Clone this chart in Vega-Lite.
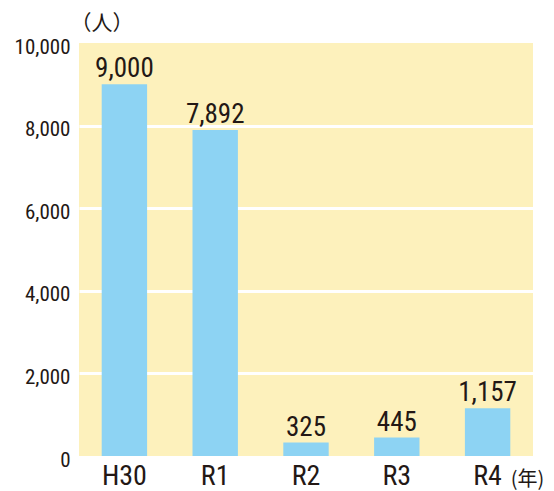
{
  "$schema": "https://vega.github.io/schema/vega-lite/v6.json",
  "autosize": "none",
  "width": 454,
  "height": 413,
  "padding": {"left": 79, "top": 43, "right": 21, "bottom": 35},
  "background": "#ffffff",
  "config": {
    "view": {"fill": "#FDF1BC", "stroke": null},
    "font": "Roboto Condensed, serif"
  },
  "data": {
    "values": [
      {"year": "H30", "people": 9000},
      {"year": "R1", "people": 7892},
      {"year": "R2", "people": 325},
      {"year": "R3", "people": 445},
      {"year": "R4", "people": 1157}
    ]
  },
  "encoding": {
    "x": {
      "field": "year",
      "type": "nominal",
      "sort": null,
      "scale": {"paddingInner": 0.5, "paddingOuter": 0.25},
      "axis": {
        "title": "(年)",
        "titleFont": "Noto Sans CJK JP",
        "titleFontSize": 20,
        "titleFontWeight": "normal",
        "titleColor": "#231815",
        "titleX": 448,
        "titleY": 23,
        "titleAlign": "center",
        "titleBaseline": "middle",
        "labelAngle": 0,
        "labelFontSize": 28,
        "labelFontWeight": "normal",
        "labelColor": "#231815",
        "labelPadding": 6,
        "ticks": false,
        "domain": false,
        "grid": false
      }
    },
    "y": {
      "field": "people",
      "type": "quantitative",
      "scale": {"domain": [0, 10000], "nice": false},
      "axis": {
        "title": "（人）",
        "titleFont": "Noto Sans CJK JP",
        "titleFontSize": 21,
        "titleFontWeight": "normal",
        "titleColor": "#231815",
        "titleAngle": 0,
        "titleX": -9,
        "titleY": -20,
        "titleAlign": "left",
        "titleBaseline": "middle",
        "values": [0, 2000, 4000, 6000, 8000, 10000],
        "format": ",d",
        "labelFontSize": 21,
        "labelFontWeight": "normal",
        "labelColor": "#231815",
        "labelPadding": 9,
        "labelOffset": 4,
        "ticks": false,
        "domain": false,
        "grid": true,
        "gridColor": "#ffffff",
        "gridWidth": 3,
        "gridOpacity": {"condition": {"test": "datum.value === 0 || datum.value === 10000", "value": 0}, "value": 1}
      }
    }
  },
  "layer": [
    {"mark": {"type": "bar", "color": "#8DD3F3"}},
    {
      "mark": {"type": "text", "baseline": "alphabetic", "dy": -7, "fontSize": 27, "fontWeight": "normal", "color": "#231815"},
      "encoding": {"text": {"field": "people", "type": "quantitative", "format": ",d"}}
    }
  ]
}
